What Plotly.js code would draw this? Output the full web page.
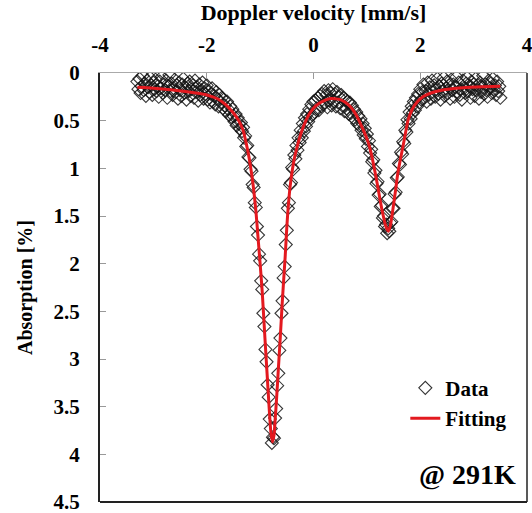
<!DOCTYPE html>
<html>
<head>
<meta charset="utf-8">
<script src="https://cdn.plot.ly/plotly-3.0.1.min.js"></script>
<style>html,body{margin:0;padding:0;background:#fff;}#chart{width:532px;height:513px;}</style>
</head>
<body>
<div id="chart"></div>
<script>
// Doppler velocity of each measured point [mm/s]
const velocity = [
-3.30,-3.28,-3.26,-3.24,-3.22,-3.20,-3.18,-3.16,-3.14,-3.12,
-3.10,-3.08,-3.06,-3.04,-3.02,-3.00,-2.98,-2.96,-2.94,-2.92,
-2.90,-2.88,-2.86,-2.84,-2.82,-2.80,-2.78,-2.76,-2.74,-2.72,
-2.70,-2.68,-2.66,-2.64,-2.62,-2.60,-2.58,-2.56,-2.54,-2.52,
-2.50,-2.48,-2.46,-2.44,-2.42,-2.40,-2.38,-2.36,-2.34,-2.32,
-2.30,-2.28,-2.26,-2.24,-2.22,-2.20,-2.18,-2.16,-2.14,-2.12,
-2.10,-2.08,-2.06,-2.04,-2.02,-2.00,-1.98,-1.96,-1.94,-1.92,
-1.90,-1.88,-1.86,-1.84,-1.82,-1.80,-1.78,-1.76,-1.74,-1.72,
-1.70,-1.68,-1.66,-1.64,-1.62,-1.60,-1.58,-1.56,-1.54,-1.52,
-1.50,-1.48,-1.46,-1.44,-1.42,-1.40,-1.38,-1.36,-1.34,-1.32,
-1.30,-1.28,-1.26,-1.24,-1.22,-1.20,-1.18,-1.16,-1.14,-1.12,
-1.10,-1.08,-1.06,-1.04,-1.02,-1.00,-0.98,-0.96,-0.94,-0.92,
-0.90,-0.88,-0.86,-0.84,-0.82,-0.80,-0.78,-0.76,-0.74,-0.72,
-0.70,-0.68,-0.66,-0.64,-0.62,-0.60,-0.58,-0.56,-0.54,-0.52,
-0.50,-0.48,-0.46,-0.44,-0.42,-0.40,-0.38,-0.36,-0.34,-0.32,
-0.30,-0.28,-0.26,-0.24,-0.22,-0.20,-0.18,-0.16,-0.14,-0.12,
-0.10,-0.08,-0.06,-0.04,-0.02,0.00,0.02,0.04,0.06,0.08,
0.10,0.12,0.14,0.16,0.18,0.20,0.22,0.24,0.26,0.28,
0.30,0.32,0.34,0.36,0.38,0.40,0.42,0.44,0.46,0.48,
0.50,0.52,0.54,0.56,0.58,0.60,0.62,0.64,0.66,0.68,
0.70,0.72,0.74,0.76,0.78,0.80,0.82,0.84,0.86,0.88,
0.90,0.92,0.94,0.96,0.98,1.00,1.02,1.04,1.06,1.08,
1.10,1.12,1.14,1.16,1.18,1.20,1.22,1.24,1.26,1.28,
1.30,1.32,1.34,1.36,1.38,1.40,1.42,1.44,1.46,1.48,
1.50,1.52,1.54,1.56,1.58,1.60,1.62,1.64,1.66,1.68,
1.70,1.72,1.74,1.76,1.78,1.80,1.82,1.84,1.86,1.88,
1.90,1.92,1.94,1.96,1.98,2.00,2.02,2.04,2.06,2.08,
2.10,2.12,2.14,2.16,2.18,2.20,2.22,2.24,2.26,2.28,
2.30,2.32,2.34,2.36,2.38,2.40,2.42,2.44,2.46,2.48,
2.50,2.52,2.54,2.56,2.58,2.60,2.62,2.64,2.66,2.68,
2.70,2.72,2.74,2.76,2.78,2.80,2.82,2.84,2.86,2.88,
2.90,2.92,2.94,2.96,2.98,3.00,3.02,3.04,3.06,3.08,
3.10,3.12,3.14,3.16,3.18,3.20,3.22,3.24,3.26,3.28,
3.30,3.32,3.34,3.36,3.38,3.40,3.42,3.44,3.46,3.48,
3.50
];
// Measured absorption [%]
const absorption = [
0.09,0.17,0.06,0.21,0.14,0.03,0.18,0.11,0.24,0.08,0.15,0.20,0.05,0.13,0.23,0.10,
0.17,0.07,0.19,0.14,0.25,0.09,0.16,0.04,0.21,0.12,0.18,0.08,0.26,0.14,0.02,0.19,0.11,0.23,0.16,0.07,
0.20,0.13,0.27,0.10,0.18,0.24,0.12,0.06,0.21,0.15,
0.28,0.11,0.19,0.09,0.24,0.17,0.13,0.26,0.08,0.20,
0.15,0.29,0.12,0.23,0.18,0.10,0.27,0.16,0.22,0.13,
0.28,0.19,0.31,0.22,0.16,0.30,0.24,0.33,0.20,0.27,
0.35,0.23,0.31,0.26,0.37,0.28,0.34,0.40,0.30,0.38,
0.44,0.35,0.46,0.38,0.45,0.51,0.43,0.55,0.47,0.53,
0.58,0.52,0.61,0.57,0.68,0.66,0.77,0.76,0.88,0.89,
1.01,1.03,1.17,1.20,1.36,1.41,1.61,
1.70,1.90,1.97,2.18,2.27,2.52,2.66,2.90,3.03,3.27,
3.40,3.63,3.73,3.88,3.82,3.83,3.62,3.52,3.28,3.15,
2.91,2.78,2.52,2.39,2.15,2.03,1.80,1.65,
1.42,1.36,1.17,1.15,0.99,1.01,0.86,0.90,0.76,0.81,
0.68,0.73,0.60,0.68,0.53,0.61,0.47,0.56,0.43,0.51,
0.38,0.46,0.33,0.44,0.30,0.41,0.29,0.37,0.26,0.39,
0.24,0.35,0.22,0.33,0.19,0.31,0.23,0.36,0.18,0.29,
0.21,0.34,0.17,0.30,0.22,0.35,0.20,0.31,0.25,0.37,
0.23,0.34,0.26,0.40,0.28,0.37,0.30,0.43,0.31,0.42,
0.34,0.47,0.38,0.49,0.41,0.53,0.45,0.55,
0.48,0.60,0.53,0.65,0.58,0.69,0.64,0.77,0.71,0.84,
0.80,0.93,0.91,1.05,1.02,1.16,1.14,1.28,1.27,1.40,
1.39,1.52,1.50,1.61,1.59,1.68,1.63,1.66,1.57,1.56,
1.42,1.42,1.27,1.25,1.10,1.09,0.95,0.96,0.83,0.85,
0.72,0.74,0.60,0.62,0.49,0.53,0.41,0.48,0.35,0.42,
0.30,0.39,
0.26,0.35,0.22,0.31,0.17,0.28,0.20,0.12,0.26,0.19,
0.30,0.10,0.23,0.15,0.27,0.08,0.20,0.13,0.25,0.17,
0.06,0.22,0.14,0.28,0.11,0.19,0.05,0.24,0.16,0.09,
0.21,0.13,0.27,0.07,0.18,0.12,0.25,0.15,0.04,0.20,
0.10,0.23,0.17,0.28,0.08,0.16,0.21,0.11,0.05,0.19,
0.14,0.26,0.09,0.17,0.12,0.24,0.06,0.18,0.13,0.27,
0.10,0.20,0.15,0.03,0.22,0.12,0.18,0.25,0.08,0.16,
0.11,0.21,0.06,0.17,0.13,0.23,0.09,0.19,0.14,0.26
];
// Fitted curve
const fitVelocity = [-3.3,-3.0,-2.6,-2.2,-2.0,-1.8,-1.65,-1.5,-1.4,-1.32,-1.23,-1.18,-1.13,-1.08,-1.04,-1.0,-0.96,-0.91,-0.87,-0.83,-0.80,-0.77,-0.74,-0.72,-0.69,-0.66,-0.62,-0.59,-0.56,-0.53,-0.50,-0.48,-0.44,-0.40,-0.36,-0.30,-0.25,-0.18,-0.10,0.0,0.1,0.2,0.3,0.4,0.5,0.6,0.7,0.8,0.87,0.95,1.02,1.08,1.15,1.20,1.25,1.30,1.35,1.40,1.44,1.49,1.54,1.58,1.63,1.68,1.72,1.77,1.85,1.95,2.05,2.2,2.4,2.8,3.2,3.5];
const fitAbsorption = [0.15,0.16,0.18,0.21,0.23,0.27,0.33,0.42,0.50,0.60,0.82,0.98,1.18,1.44,1.72,2.0,2.30,2.78,3.15,3.52,3.76,3.87,3.80,3.65,3.40,3.12,2.75,2.45,2.18,1.92,1.62,1.45,1.20,1.03,0.90,0.76,0.66,0.55,0.45,0.37,0.32,0.29,0.27,0.27,0.28,0.31,0.36,0.44,0.52,0.62,0.72,0.84,1.03,1.18,1.34,1.48,1.60,1.66,1.60,1.42,1.22,1.05,0.90,0.76,0.64,0.50,0.38,0.30,0.25,0.21,0.18,0.155,0.145,0.14];

const xTickVals = [-4,-2,0,2,4];
const xTickText = ['-4','-2','0','2','4'];
const yTickVals = [0,0.5,1,1.5,2,2.5,3,3.5,4,4.5];
const yTickText = ['0','0.5','1','1.5','2','2.5','3','3.5','4','4.5'];

const serif = 'Liberation Serif, Times New Roman, serif';

const traces = [
  {
    x: velocity, y: absorption, type: 'scatter', mode: 'markers', name: 'Data',
    marker: {symbol: 'diamond-open', size: 10, color: 'rgba(20,20,20,0.85)', line: {width: 1.1}}
  },
  {
    x: fitVelocity, y: fitAbsorption, type: 'scatter', mode: 'lines', name: 'Fitting',
    line: {color: '#e3191f', width: 3, shape: 'spline', smoothing: 0.6}
  }
];

const layout = {
  width: 532, height: 513,
  margin: {l: 100, r: 5, t: 73, b: 11},
  paper_bgcolor: '#fff', plot_bgcolor: '#fff',
  font: {family: serif, color: '#000'},
  showlegend: true,
  legend: {
    x: 0.715, y: 0.313, xanchor: 'left', yanchor: 'top',
    bgcolor: 'rgba(0,0,0,0)',
    font: {family: serif, size: 21, weight: 'bold', color: '#000'},
    itemwidth: 30, tracegroupgap: 0
  },
  xaxis: {
    side: 'top', range: [-4, 4], tickmode: 'array', tickvals: xTickVals, ticktext: xTickText,
    ticks: 'inside', ticklen: 6, tickcolor: '#999', tickwidth: 1,
    showline: true, linecolor: '#aaa', linewidth: 1, mirror: false,
    showgrid: false, zeroline: false,
    tickfont: {family: serif, size: 21, weight: 'bold', color: '#000'},
    ticklabelstandoff: 12, ticklabeloverflow: 'allow',
    title: {text: 'Doppler velocity [mm/s]', font: {family: serif, size: 22, weight: 'bold', color: '#000'}, standoff: 6}
  },
  yaxis: {
    range: [4.5, 0], tickmode: 'array', tickvals: yTickVals, ticktext: yTickText,
    ticks: 'inside', ticklen: 6, tickcolor: '#999', tickwidth: 1,
    showline: true, linecolor: '#222', linewidth: 2,
    showgrid: false, zeroline: false,
    tickfont: {family: serif, size: 21, weight: 'bold', color: '#000'},
    ticklabelstandoff: 14, ticklabeloverflow: 'allow',
    title: {text: 'Absorption [%]', font: {family: serif, size: 20, weight: 'bold', color: '#000'}, standoff: 16}
  },
  shapes: [
    {type: 'line', xref: 'paper', yref: 'paper', x0: 0, x1: 1, y0: 0, y1: 0, line: {color: '#222', width: 2}},
    {type: 'line', xref: 'paper', yref: 'paper', x0: 1, x1: 1, y0: 0, y1: 1, line: {color: '#222', width: 1.5}}
  ],
  annotations: [
    {text: '@ 291K', xref: 'paper', yref: 'paper', x: 0.98, y: 0.065, xanchor: 'right', yanchor: 'middle',
     showarrow: false, font: {family: serif, size: 28, weight: 'bold', color: '#000'}}
  ]
};

Plotly.newPlot('chart', traces, layout, {displayModeBar: false, staticPlot: true});
</script>
</body>
</html>
